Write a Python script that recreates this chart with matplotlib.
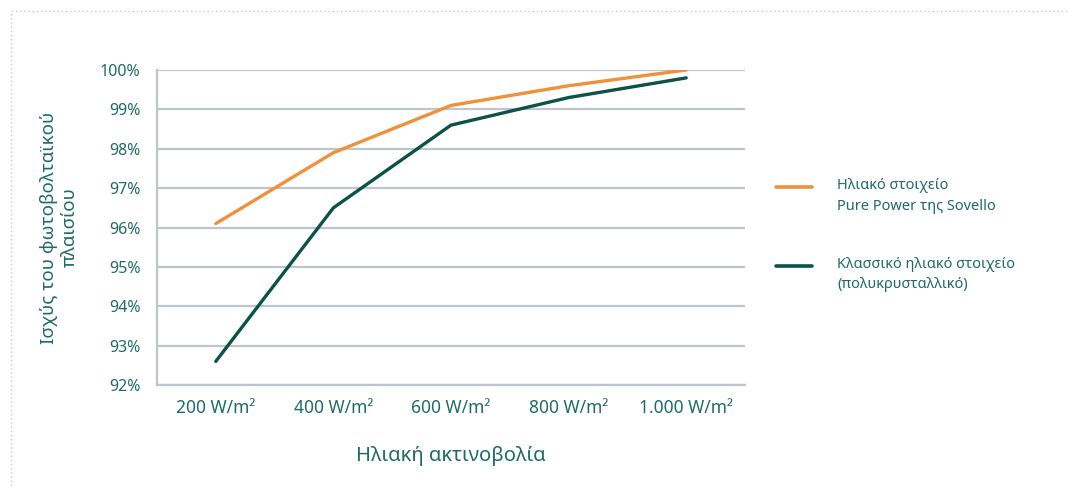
import matplotlib
matplotlib.use("Agg")
import matplotlib.pyplot as plt
from matplotlib.patches import Rectangle
from matplotlib.lines import Line2D

categories = ["200 W/m²", "400 W/m²", "600 W/m²", "800 W/m²", "1.000 W/m²"]
sovello = [96.1, 97.9, 99.1, 99.6, 100.0]
classic = [92.6, 96.5, 98.6, 99.3, 99.8]
yticks = [92, 93, 94, 95, 96, 97, 98, 99, 100]
series_labels = ["Ηλιακό στοιχείο\nPure Power της Sovello",
                 "Κλασσικό ηλιακό στοιχείο\n(πολυκρυσταλλικό)"]

plt.rcParams['font.family'] = ['Noto Sans', 'DejaVu Sans']
TEXT = "#1f6b66"
ORANGE = "#f0913a"
GREEN = "#0b5249"
GRID = "#bfc5ca"

W, H = 1070, 488
fig = plt.figure(figsize=(W/100, H/100), dpi=100)
ax = fig.add_axes([157/W, 1-385/H, (745-157)/W, (385-70)/H])

x = list(range(len(categories)))
ax.plot(x, sovello, color=ORANGE, lw=2.4, solid_capstyle='round')
ax.plot(x, classic, color=GREEN, lw=2.4, solid_capstyle='round')

ax.set_xlim(-0.5, len(categories)-0.5)
ax.set_ylim(92, 100)
ax.set_yticks(yticks)
ax.set_yticklabels([f"{v}%" for v in yticks])
ax.set_xticks(x)
ax.set_xticklabels(categories)
ax.tick_params(length=0, labelcolor=TEXT)
ax.tick_params(axis='y', pad=12, labelsize=11.5)
ax.tick_params(axis='x', pad=10, labelsize=12.5)
ax.grid(axis='y', color=GRID, lw=1.6)
ax.set_axisbelow(True)
for s in ['top', 'right']:
    ax.spines[s].set_visible(False)
for s in ['left', 'bottom']:
    ax.spines[s].set_color(GRID)
    ax.spines[s].set_linewidth(1.6)

ax.set_xlabel("Ηλιακή ακτινοβολία", fontsize=14.5, color=TEXT, labelpad=21)
ax.set_ylabel("Ισχύς του φωτοβολταϊκού\nπλαισίου", fontsize=13.5, color=TEXT,
              labelpad=15, linespacing=1.2)

# legend (manual)
for lbl, col, ly in [(series_labels[0], ORANGE, 187), (series_labels[1], GREEN, 266)]:
    fig.add_artist(Line2D([776/W, 812/W], [1-ly/H, 1-ly/H], color=col, lw=2.6,
                          solid_capstyle='round'))
    fig.text(837/W, 1-(ly-9)/H, lbl, fontsize=10.5, color=TEXT, va='top', ha='left',
             linespacing=1.5)

# dotted frame
fig.add_artist(Rectangle((10.5/W, -0.1), 1.2, 1-11/H+0.1, transform=fig.transFigure,
                         fill=False, edgecolor="#c8c8c8", lw=1.0, ls=(0, (1, 2))))

fig.savefig("out.png", dpi=100)
